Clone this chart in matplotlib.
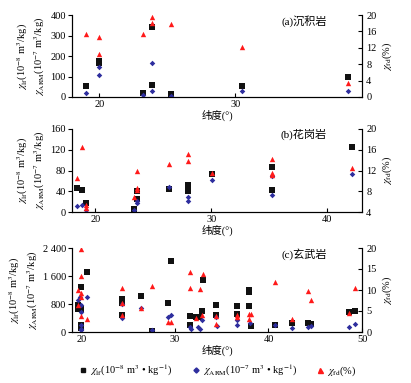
import matplotlib
matplotlib.use("Agg")
import matplotlib.pyplot as plt
from matplotlib.lines import Line2D

plt.rcParams['font.family'] = ['Liberation Serif', 'Noto Sans CJK SC', 'DejaVu Sans']
plt.rcParams['mathtext.fontset'] = 'stix'
plt.rcParams['axes.unicode_minus'] = False

# ---------------- data ----------------
# (a) sedimentary rock
a_lat_lf = [19.0, 19.95, 19.95, 23.2, 23.9, 23.9, 25.3, 30.5, 38.3]
a_lf = [52, 176, 168, 21, 340, 60, 13, 55, 100]
a_lat_arm = [19.0, 19.95, 19.95, 23.2, 23.9, 23.9, 25.3, 30.5, 38.3]
a_arm = [21, 148, 109, 10, 167, 29, 6, 29, 31]
a_lat_fd = [19.0, 19.95, 19.95, 23.2, 23.9, 23.9, 25.3, 30.5, 38.3]
a_fd = [15.3, 14.6, 10.4, 15.4, 19.4, 18.1, 17.8, 12.2, 3.5]

# (b) granite
b_lat_lf = [18.4, 18.85, 19.2, 23.35, 23.6, 23.6, 26.35, 28.0, 28.0, 30.05, 35.2, 35.2, 42.1]
b_lf = [47, 43, 18, 6, 40, 25, 44, 53, 40, 74, 86, 42, 126]
b_lat_arm = [18.4, 18.85, 19.2, 23.35, 23.6, 23.6, 26.35, 28.0, 28.0, 30.05, 35.2, 35.2, 42.1]
b_arm = [11, 14, 3, 3, 22, 18, 48, 29, 21, 61, 69, 32, 73]
b_lat_fd = [18.4, 18.85, 19.2, 19.2, 23.35, 23.6, 23.6, 23.6, 26.35, 28.0, 28.0, 30.05, 35.2, 35.2, 35.2, 42.1]
b_fd = [10.5, 16.5, 4.8, 5.4, 6.9, 11.9, 8.6, 8.2, 13.2, 15.1, 13.8, 11.6, 14.2, 11.5, 11.2, 12.5]

# (c) basalt
c_lat_lf = [19.65, 19.65, 19.9, 20.0, 20.0, 20.0, 20.0, 20.6,
            24.3, 24.3, 24.3, 26.4, 27.6, 29.3, 29.6,
            31.6, 31.6, 32.3, 32.6, 32.9, 33.0, 34.4, 34.4,
            36.6, 36.6, 37.9, 37.9, 37.9, 38.1, 40.7, 42.5,
            44.2, 44.5, 48.6, 49.3]
c_lf = [770, 660, 720, 1300, 650, 190, 120, 1710,
        940, 830, 500, 1030, 40, 830, 2030,
        460, 190, 440, 420, 600, 1490, 770, 480,
        750, 510, 1200, 1150, 750, 160, 210, 270,
        260, 240, 560, 600]
c_lat_arm = [19.65, 19.9, 20.0, 20.0, 20.0, 20.0, 20.0, 20.6,
             24.3, 24.3, 26.4, 27.6, 29.3, 29.6,
             31.6, 31.7, 32.5, 32.7, 32.9, 34.4, 34.5,
             36.6, 36.6, 38.0, 40.7, 42.5, 44.2, 44.5, 48.6, 49.3]
c_arm = [910, 1000, 770, 560, 190, 100, 60, 990,
         790, 400, 700, 50, 420, 480,
         150, 100, 140, 100, 330, 430, 180,
         340, 190, 270, 190, 120, 140, 170, 140, 220]
c_lat_fd = [19.65, 20.0, 20.0, 20.0, 20.0, 19.65, 20.0, 20.6,
            24.3, 24.3, 24.3, 26.4, 27.6, 29.3, 29.6,
            31.6, 31.6, 32.3, 32.7, 32.9, 33.0, 34.4, 34.4,
            36.6, 36.6, 37.9, 38.1, 37.9, 40.7, 42.5,
            44.2, 44.6, 48.6, 49.2]
c_fd = [10.0, 19.8, 13.4, 9.2, 8.4, 6.4, 3.8, 3.0,
        10.4, 6.8, 4.0, 5.8, 11.0, 2.3, 2.3,
        14.4, 10.4, 3.4, 10.2, 4.0, 13.8, 3.8, 2.0,
        4.0, 3.5, 4.2, 4.2, 3.0, 11.8, 3.2,
        9.8, 7.6, 4.6, 10.4]

titles = ['(a)沉积岩', '(b)花岗岩', '(c)玄武岩']
xlabel = '纬度(°)'
lab_lf = r'$\chi_{\rm lf}$(10$^{-8}$ m$^3$/kg)'
lab_arm = r'$\chi_{\rm ARM}$(10$^{-7}$ m$^3$/kg)'
lab_fd = r'$\chi_{\rm fd}$(%)'
leg_labels = [r'$\chi_{\rm lf}$(10$^{-8}$ m$^3$ • kg$^{-1}$)',
              r'$\chi_{\rm ARM}$(10$^{-7}$ m$^3$ • kg$^{-1}$)',
              r'$\chi_{\rm fd}$(%)']

panels = [
    dict(lat_lf=a_lat_lf, lf=a_lf, lat_arm=a_lat_arm, arm=a_arm, lat_fd=a_lat_fd, fd=a_fd,
         xlim=(18, 39.3), xticks=[20, 30], ylim=(0, 400), yticks=[0, 100, 200, 300, 400],
         yticklabels=['0', '100', '200', '300', '400'],
         y2lim=(0, 20), y2ticks=[0, 4, 8, 12, 16, 20]),
    dict(lat_lf=b_lat_lf, lf=b_lf, lat_arm=b_lat_arm, arm=b_arm, lat_fd=b_lat_fd, fd=b_fd,
         xlim=(18, 43), xticks=[20, 30, 40], ylim=(0, 160), yticks=[0, 40, 80, 120, 160],
         yticklabels=['0', '40', '80', '120', '160'],
         y2lim=(4, 20), y2ticks=[4, 8, 12, 16, 20]),
    dict(lat_lf=c_lat_lf, lf=c_lf, lat_arm=c_lat_arm, arm=c_arm, lat_fd=c_lat_fd, fd=c_fd,
         xlim=(19, 50), xticks=[20, 30, 40, 50], ylim=(0, 2400), yticks=[0, 800, 1600, 2400],
         yticklabels=['0', '800', '1 600', '2 400'],
         y2lim=(0, 20), y2ticks=[0, 5, 10, 15, 20]),
]

W, H = 411, 383
fig = plt.figure(figsize=(W / 100, H / 100), dpi=100)

boxes = [(72, 15, 362, 97), (72, 129, 362, 212), (72, 248, 362, 332)]

c_black = '#111111'
c_blue = '#2e2e9e'
c_red = '#ff1a1a'
fs = 7.5

for i, (p, box) in enumerate(zip(panels, boxes)):
    l, t, r, b = box
    ax = fig.add_axes([l / W, 1 - b / H, (r - l) / W, (b - t) / H])
    ax2 = ax.twinx()
    ax.scatter(p['lat_lf'], p['lf'], marker='s', s=13, color=c_black, linewidths=0, zorder=3)
    ax.scatter(p['lat_arm'], p['arm'], marker='D', s=8, color=c_blue, linewidths=0, zorder=4)
    ax2.scatter(p['lat_fd'], p['fd'], marker='^', s=15, color=c_red, linewidths=0, zorder=5)
    ax.set_xlim(*p['xlim'])
    ax.set_ylim(*p['ylim'])
    ax2.set_ylim(*p['y2lim'])
    ax.set_xticks(p['xticks'])
    ax.set_yticks(p['yticks'])
    ax.set_yticklabels(p['yticklabels'])
    ax2.set_yticks(p['y2ticks'])
    for a in (ax, ax2):
        a.spines['top'].set_visible(False)
        for s in a.spines.values():
            s.set_linewidth(0.8)
    ax.tick_params(axis='y', direction='out', length=3, width=0.8, labelsize=fs, pad=1.5)
    ax.tick_params(axis='x', direction='in', length=3, width=0.8, labelsize=fs, pad=2)
    ax2.tick_params(axis='y', direction='in', length=3, width=0.8, labelsize=fs, pad=3)
    ax.set_xlabel(xlabel, fontsize=fs, labelpad=1)
    ax.set_ylabel(lab_lf + '\n' + lab_arm, fontsize=fs, labelpad=2, linespacing=1.3)
    ax2.set_ylabel(lab_fd, fontsize=fs, labelpad=3)
    ax.text(0.80, 0.93, titles[i], transform=ax.transAxes, fontsize=fs + 0.5,
            ha='center', va='center')

handles = [
    Line2D([], [], marker='s', linestyle='none', color=c_black, markersize=3.2),
    Line2D([], [], marker='D', linestyle='none', color=c_blue, markersize=2.6),
    Line2D([], [], marker='^', linestyle='none', color=c_red, markersize=3.6),
]
fig.legend(handles, leg_labels, loc='center', bbox_to_anchor=(0.53, 1 - 370 / H), ncol=3,
           frameon=False, fontsize=fs, handlelength=0.8, handletextpad=0.3, columnspacing=1.8)

fig.savefig('out.png', dpi=100)
